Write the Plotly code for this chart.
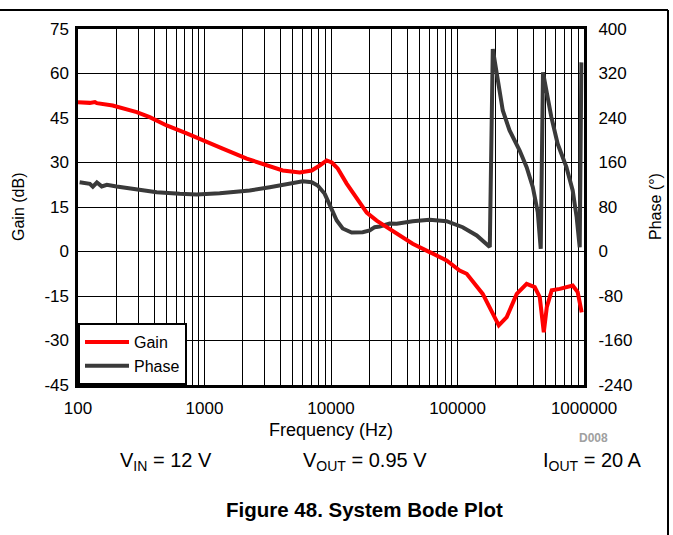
import plotly.graph_objects as go

# ---- data ----
gain_freq = [100, 124, 136, 141, 188, 291, 369, 502, 723, 968, 1393, 2157, 3104, 4154,
             5662, 7035, 8145, 9250, 10140, 11300, 13300, 15960, 19150, 22960, 29100,
             33050, 39650, 44200, 60250, 82000, 104000, 118300, 158300, 186600, 212000,
             245000, 294000, 352000, 408000, 447000, 481000, 508000, 556000, 643000,
             771000, 814000, 891000, 959000]
gain_db = [50.3, 50.1, 50.4, 50.0, 49.2, 47.0, 45.3, 42.5, 39.8, 37.4, 34.7, 31.3, 29.0, 27.3,
           26.6, 27.3, 29.0, 30.7, 30.0, 28.0, 22.9, 17.9, 13.1, 10.4, 7.5,
           6.0, 3.8, 2.6, -0.2, -3.0, -6.4, -7.5, -14.3, -19.9, -24.9,
           -22.1, -14.3, -10.9, -12.0, -15.4, -27.2, -18.8, -13.1, -12.6,
           -12.0, -11.5, -13.7, -20.5]

phase_freq = [103, 124, 131, 141, 154, 169, 202, 291, 419, 637, 867, 1319, 2004, 2276,
              3279, 4718, 5975, 7035, 7848, 8918, 10140, 11100, 12370, 14560, 17800,
              20240, 22150, 24270, 29100, 33050, 44200, 60250, 82000, 109900, 141900,
              170200, 180000, 190100, 208000, 228000, 258000, 310000, 352000, 394000,
              431000, 455000, 474000, 516000, 552000, 619000, 726000, 814000, 875000,
              925000, 953000]
phase_deg = [124.6, 121.7, 116.6, 124.0, 117.0, 120.0, 117.0, 111.0, 106.6, 103.7, 102.5, 104.8,
             108.4, 109.7, 115.6, 121.7, 126.4, 124.6, 118.7, 103.7, 73.7, 55.7, 41.4, 34.2,
             34.7, 37.8, 43.7, 45.0, 50.3, 49.8, 54.5, 57.0, 54.5, 43.7, 28.8,
             13.8, 8.0, 364.0, 307.0, 253.5, 217.6, 181.6, 151.6, 115.6,
             70.7, 4.9, 322.0, 277.0, 241.5, 193.6, 151.6, 109.7, 61.7,
             7.7, 340.0]

freq_ticks = [100, 1000, 10000, 100000, 1000000]
freq_ticktext = ["100", "1000", "10000", "100000", "1000000"]
gain_ticks = [-45, -30, -15, 0, 15, 30, 45, 60, 75]
gain_ticktext = ["-45", "-30", "-15", "0", "15", "30", "45", "60", "75"]
phase_ticks = [-240, -160, -80, 0, 80, 160, 240, 320, 400]
phase_ticktext = ["-240", "-160", "-80", "0", "80", "160", "240", "320", "400"]

FONT = "Arial, Liberation Sans, sans-serif"

fig = go.Figure()
fig.add_trace(go.Scatter(x=gain_freq, y=gain_db, name="Gain", mode="lines",
                         line=dict(color="#ff0000", width=4), yaxis="y2"))
fig.add_trace(go.Scatter(x=phase_freq, y=phase_deg, name="Phase", mode="lines",
                         line=dict(color="#3a3a3a", width=4), yaxis="y"))

W, H = 673, 535
L, R, T, B = 78, 89, 29, 150
pw, ph = W - L - R, H - T - B

def px(x):
    return (x - L) / pw

def py(y):
    return (H - B - y) / ph

fig.update_layout(
    width=W, height=H,
    margin=dict(l=L, r=R, t=T, b=B, pad=0),
    paper_bgcolor="white", plot_bgcolor="white",
    font=dict(family=FONT, color="black", size=17),
    showlegend=True,
    legend=dict(x=0, y=0, xanchor="left", yanchor="bottom",
                bgcolor="white", bordercolor="black", borderwidth=2,
                font=dict(size=16, family=FONT), itemwidth=44,
                tracegroupgap=0),
    xaxis=dict(type="log", range=[2, 6], tickmode="array",
               tickvals=freq_ticks, ticktext=freq_ticktext,
               showgrid=True, gridcolor="black", gridwidth=1,
               minor=dict(dtick="D1", showgrid=True, gridcolor="black", gridwidth=1, ticks=""),
               showline=True, linecolor="black", linewidth=3, mirror=True,
               ticks="", tickfont=dict(size=17), ticklabelstandoff=6, zeroline=False),
    yaxis=dict(range=[-240, 400], tickmode="array", tickvals=phase_ticks,
               ticktext=phase_ticktext,
               side="right", showgrid=True, gridcolor="black", gridwidth=1,
               zeroline=False, showline=True, linecolor="black", linewidth=3,
               mirror=True, ticks="", tickfont=dict(size=17), ticklabelstandoff=8),
    yaxis2=dict(range=[-45, 75], tickmode="array", tickvals=gain_ticks,
                ticktext=gain_ticktext,
                overlaying="y", side="left", showgrid=False, zeroline=False,
                showline=False, ticks="", tickfont=dict(size=17), ticklabelstandoff=8),
)

ann = [
    dict(text="Gain (dB)", x=px(18), y=0.5, textangle=-90, font=dict(size=16)),
    dict(text="Phase (°)", x=px(655), y=0.5, textangle=-90, font=dict(size=16)),
    dict(text="Frequency (Hz)", x=px(331), y=py(430), font=dict(size=18)),
    dict(text="<b>D008</b>", x=px(593), y=py(438), font=dict(size=12, color="#a0a0a0")),
    dict(text="V<sub>IN</sub> = 12 V", x=px(166), y=py(462), font=dict(size=20)),
    dict(text="V<sub>OUT</sub> = 0.95 V", x=px(365), y=py(462), font=dict(size=20)),
    dict(text="I<sub>OUT</sub> = 20 A", x=px(592), y=py(462), font=dict(size=20)),
    dict(text="<b>Figure 48. System Bode Plot</b>", x=px(364), y=py(509), font=dict(size=20.5)),
]
for a in ann:
    fig.add_annotation(xref="paper", yref="paper", showarrow=False,
                       xanchor="center", yanchor="middle", **a)

# page frame (top rule and right rule)
fig.add_shape(type="line", xref="paper", yref="paper", x0=px(-5), x1=px(668),
              y0=py(10), y1=py(10), line=dict(color="black", width=2))
fig.add_shape(type="line", xref="paper", yref="paper", x0=px(668), x1=px(668),
              y0=py(10), y1=py(540), line=dict(color="black", width=2))

fig.write_html("out.html", config={"displayModeBar": False},
               post_script="document.body.style.margin='0';document.body.style.padding='0';")
